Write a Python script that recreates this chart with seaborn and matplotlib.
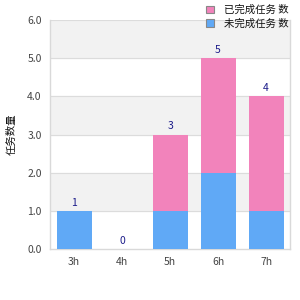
import matplotlib
matplotlib.use("Agg")
import matplotlib.pyplot as plt
import numpy as np
import pandas as pd
import seaborn as sns
from matplotlib.patches import Patch

# chart data
hours = ["3h", "4h", "5h", "6h", "7h"]
base_counts = [1, 0, 1, 2, 1]
extra_counts = [0, 0, 2, 3, 3]
series_names = ["未完成任务 数", "已完成任务 数"]
y_label = "任务数量"

totals = [b + e for b, e in zip(base_counts, extra_counts)]
df = pd.DataFrame({"hour": hours, "base": base_counts, "total": totals})

sns.set_theme(style="white")
plt.rcParams["font.family"] = ["Noto Sans CJK SC", "DejaVu Sans"]

blue = "#60a9f6"
pink = "#f283bb"

fig = plt.figure(figsize=(3, 3), dpi=100)
ax = fig.add_axes([0.167, 0.17, 0.8, 0.763])

# alternating bands + grid lines
for lo in [1, 3, 5]:
    ax.axhspan(lo, lo + 1, color="#f2f2f2", zorder=0)
for y in range(1, 7):
    ax.axhline(y, color="#dcdcdc", lw=0.8, zorder=0.5)

sns.barplot(data=df, x="hour", y="total", color=pink, saturation=1, width=0.73,
            linewidth=0, ax=ax, zorder=2)
sns.barplot(data=df, x="hour", y="base", color=blue, saturation=1, width=0.73,
            linewidth=0, ax=ax, zorder=3)

for i, t in enumerate(totals):
    ax.text(i, t + 0.08, str(t), ha="center", va="bottom", fontsize=7.5,
            color="#1c1c8a", zorder=4)

ax.set_ylim(0, 6)
ax.set_xlim(-0.5, len(hours) - 0.5)
ax.set_yticks(np.arange(0, 6.5, 1))
ax.set_yticklabels([f"{v:.1f}" for v in np.arange(0, 6.5, 1)])
ax.tick_params(axis="both", labelsize=7.5, colors="#444444", length=0, pad=6)
ax.set_xlabel("")
ax.set_ylabel(y_label, fontsize=7.5, color="#111111", labelpad=8)

for side in ["left", "bottom", "right"]:
    ax.spines[side].set_color("#d9d9d9")
    ax.spines[side].set_linewidth(1)
ax.spines["top"].set_visible(False)

handles = [Patch(facecolor=pink, edgecolor="#888888", lw=0.8),
           Patch(facecolor=blue, edgecolor="#888888", lw=0.8)]
fig.legend(handles, [series_names[1], series_names[0]], loc="upper right",
           bbox_to_anchor=(0.995, 1.015), frameon=False, fontsize=7.5,
           handlelength=0.8, handleheight=0.8, handletextpad=1.0, labelspacing=0.3,
           labelcolor="#111111")

fig.savefig("out.png", dpi=100)
